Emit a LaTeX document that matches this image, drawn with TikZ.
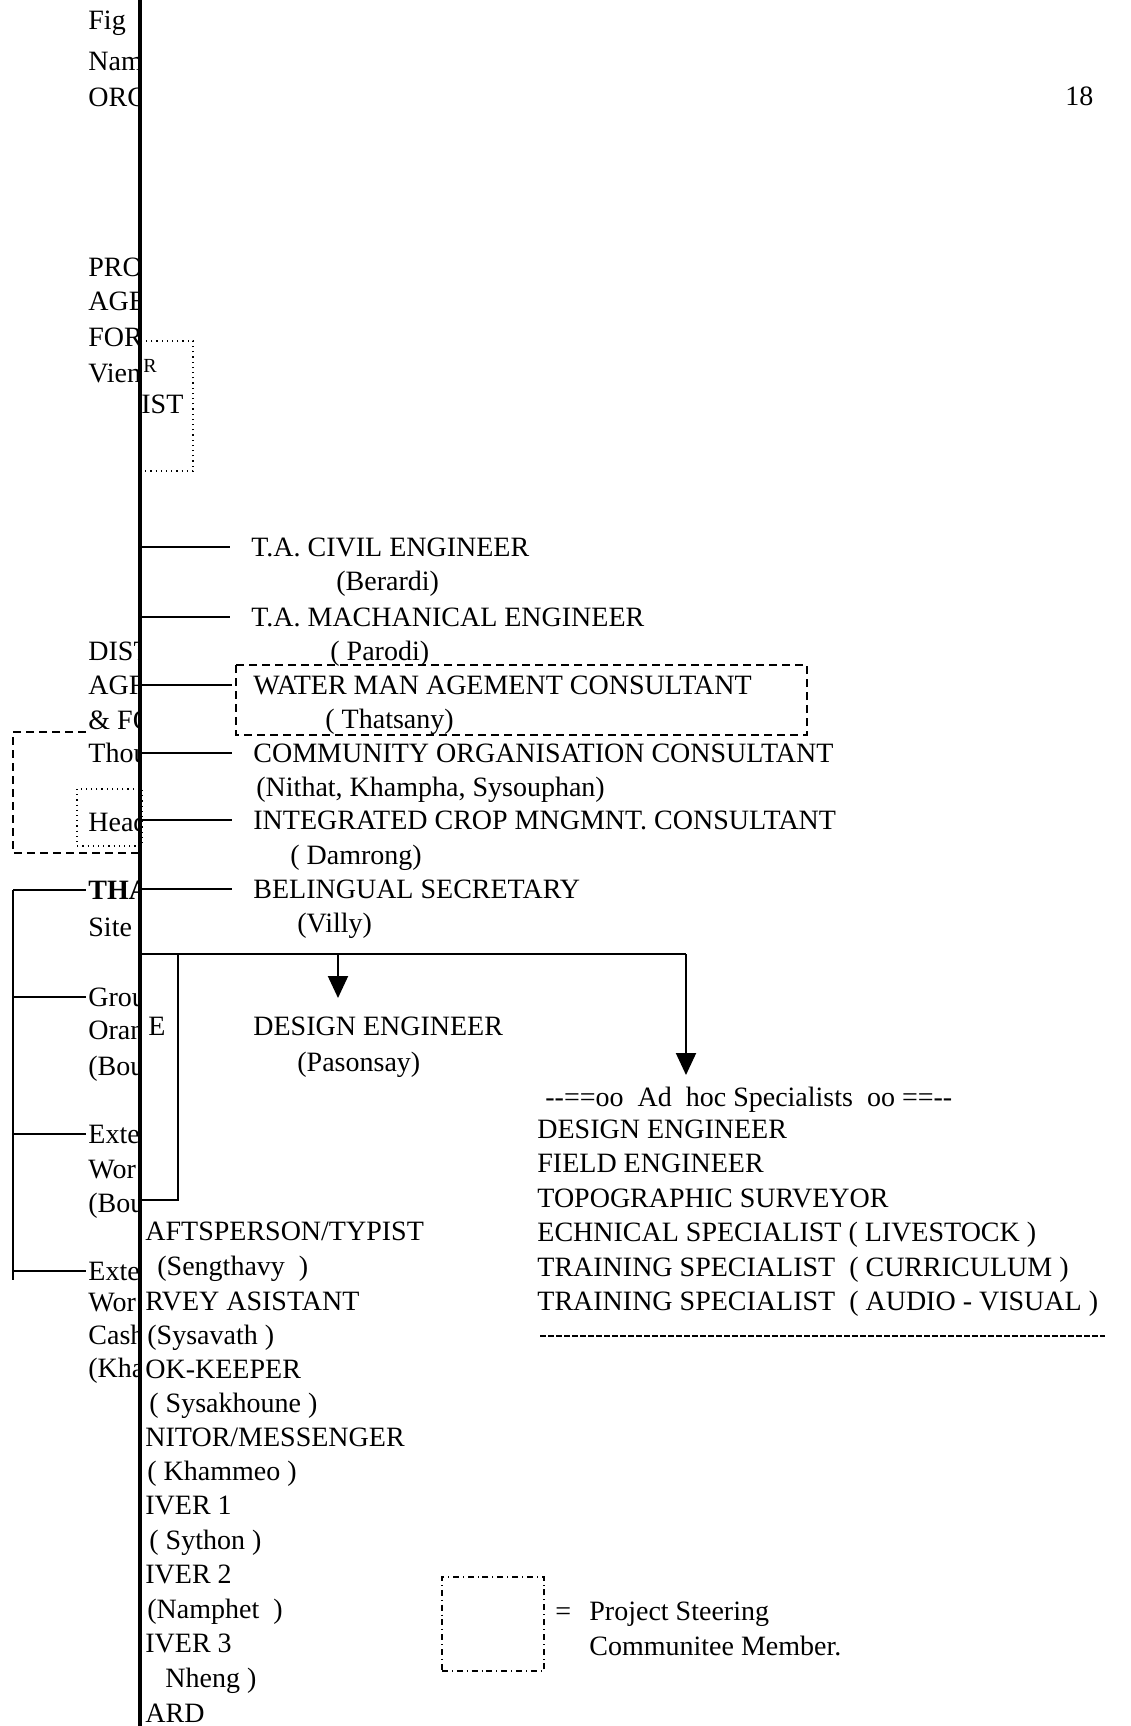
\documentclass[tikz,border=0pt]{standalone}
\usepackage{fontspec}
\setmainfont{Liberation Serif}
\usetikzlibrary{arrows.meta}

\begin{document}
\begin{tikzpicture}[x=0.5pt,y=-0.5pt,
  lbl/.style={anchor=west,inner sep=0pt,text height=9.2pt,text depth=0pt,font=\fontsize{14}{16}\selectfont},
  link/.style={line width=1pt},
  drop/.style={line width=1pt,-{Triangle[length=11pt,width=10pt]}}]

\useasboundingbox (0,0) rectangle (1131,1726);

% Spine
\coordinate (top) at (140,0);
\coordinate (bot) at (140,1726);

% Left column, cut off by the spine
\begin{scope}
\clip (0,0) rectangle (139,1726);
\node[lbl] (fig) at (88,20) {Fig};
\node[lbl] (nam) at (88,61) {Nam};
\node[lbl] (org) at (88,97) {ORG};
\node[lbl] (pro) at (88,267) {PRO};
\node[lbl] (age) at (88,301) {AGE};
\node[lbl] (for) at (88,337) {FOR};
\node[lbl] (vien) at (88,373) {Vien};
\node[lbl] (dist) at (88,651) {DIST};
\node[lbl] (agr) at (88,685) {AGR};
\node[lbl] (fo) at (88,720) {\& FO};
\node[lbl] (thou) at (88,753) {Thou};
\node[lbl] (head) at (88,822) {Head};
\node[lbl] (tha) at (88,890) {\textbf{THA}};
\node[lbl] (site) at (88,927) {Site};
\node[lbl] (grou) at (88,997) {Grou};
\node[lbl] (oran) at (88,1030) {Oran};
\node[lbl] (bou1) at (88,1066) {(Bou};
\node[lbl] (ext1) at (88,1134) {Exte};
\node[lbl] (wor1) at (88,1169) {Wor};
\node[lbl] (bou2) at (88,1203) {(Bou};
\node[lbl] (ext2) at (88,1271) {Exte};
\node[lbl] (wor2) at (88,1302) {Wor};
\node[lbl] (cash) at (88,1335) {Cash};
\node[lbl] (kha) at (88,1368) {(Kha};
\end{scope}

% Left bracket
\coordinate (lb) at (13,890);
\draw[link] (lb) -- (13,1280);
\foreach \n in {tha,grou,ext1,ext2}{
  \draw[link] (lb |- \n.west) -- ([xshift=-1pt]\n.west);
}

% Steering boxes on the left
\draw[dashed,dash pattern=on 4pt off 2.5pt,line width=0.8pt]
  (86,732) -- (13,732) -- (13,853) -- (140,853);
\draw[dotted,line width=0.6pt] (77,789) rectangle (142,846);
\draw[dotted,line width=0.6pt] (140,341) rectangle (193,471);
\node[anchor=west,inner sep=0pt,font=\fontsize{10}{12}\selectfont] (r) at (143,366) {R};
\node[lbl] (ist) at (141,404) {IST};

% Staff
\node[lbl] (civ) at (251,547) {T.A. CIVIL ENGINEER};
\node[lbl] (civn) at (336,581) {(Berardi)};
\node[lbl] (mech) at (251,617) {T.A. MACHANICAL ENGINEER};
\node[lbl] (mechn) at (330,651) {( Parodi)};
\node[lbl] (water) at (253,685) {WATER MAN AGEMENT CONSULTANT};
\node[lbl] (watern) at (325,719) {( Thatsany)};
\node[lbl] (comm) at (253,753) {COMMUNITY ORGANISATION CONSULTANT};
\node[lbl] (commn) at (256,787) {(Nithat, Khampha, Sysouphan)};
\node[lbl] (crop) at (253,820) {INTEGRATED CROP MNGMNT. CONSULTANT};
\node[lbl] (cropn) at (290,855) {( Damrong)};
\node[lbl] (sec) at (253,889) {BELINGUAL SECRETARY};
\node[lbl] (secn) at (297,923) {(Villy)};

\foreach \n in {civ,mech,water,comm,crop,sec}{
  \draw[link] (top |- \n.west) -- ([xshift=-10.5pt]\n.west);
}
\draw[dashed,dash pattern=on 4pt off 2.5pt,line width=0.8pt] (236,665) rectangle (807,735);

% Lower branch
\coordinate (bar) at (140,954);
\coordinate (j0) at (178,954);
\coordinate (j1) at (338,954);
\coordinate (j2) at (686,954);
\coordinate (t1) at (338,998);
\coordinate (t2) at (686,1075);
\coordinate (k0) at (178,1200);
\draw[link] (bar) -- (j2);
\draw[link] (j0) -- (k0) -- (top |- k0);
\draw[drop] (j1) -- (t1);
\draw[drop] (j2) -- (t2);

\node[lbl] (e) at (148,1026) {E};
\node[lbl] (desg) at (253,1026) {DESIGN ENGINEER};
\node[lbl] (desgn) at (297,1062) {(Pasonsay)};

% Support staff
\foreach \t/\x/\y [count=\i] in {{AFTSPERSON/TYPIST}/145/1231, {(Sengthavy\ \ )}/157/1266,
  RVEY ASISTANT/145/1301, {(Sysavath )}/147/1335, OK-KEEPER/145/1369,
  {( Sysakhoune )}/149/1403, {NITOR/MESSENGER}/145/1437, {( Khammeo )}/147/1471,
  IVER 1/145/1505, {( Sython )}/149/1540, IVER 2/145/1574, {(Namphet\ \ )}/147/1609,
  IVER 3/145/1643, {Nheng )}/165/1678, ARD/145/1713}{
  \node[lbl] (st\i) at (\x,\y) {\t};
}

% Ad hoc specialists
\node[lbl] (adhoc) at (545,1097) {-{}-==oo\ \ Ad\ \ hoc Specialists\ \ oo ==-{}-};
\foreach \t [count=\i] in {DESIGN ENGINEER, FIELD ENGINEER, TOPOGRAPHIC SURVEYOR,
  ECHNICAL SPECIALIST ( LIVESTOCK ), TRAINING SPECIALIST\ \ ( CURRICULUM ),
  TRAINING SPECIALIST\ \ ( AUDIO - VISUAL )}{
  \pgfmathsetmacro\yy{1129+34.5*(\i-1)}
  \node[lbl] (spec\i) at (537,\yy) {\t};
}
\coordinate (ruleL) at (540,1336);
\coordinate (ruleR) at (1105,1336);
\draw[line width=0.8pt,dash pattern=on 3pt off 1pt] (ruleL) -- (ruleR);

% Legend
\node[draw,dash dot,line width=0.8pt,minimum width=51pt,minimum height=47pt,inner sep=0pt] (key) at (493,1624) {};
\node[lbl] (eq) at (555,1611) {=};
\node[lbl] (psc1) at (589,1611) {Project Steering};
\node[lbl] (psc2) at (589,1646) {Communitee Member.};

% Page number
\node[lbl] (pg) at (1065,96) {18};

% Spine on top
\draw[line width=2.2pt] (top) -- (bot);

\end{tikzpicture}
\end{document}
